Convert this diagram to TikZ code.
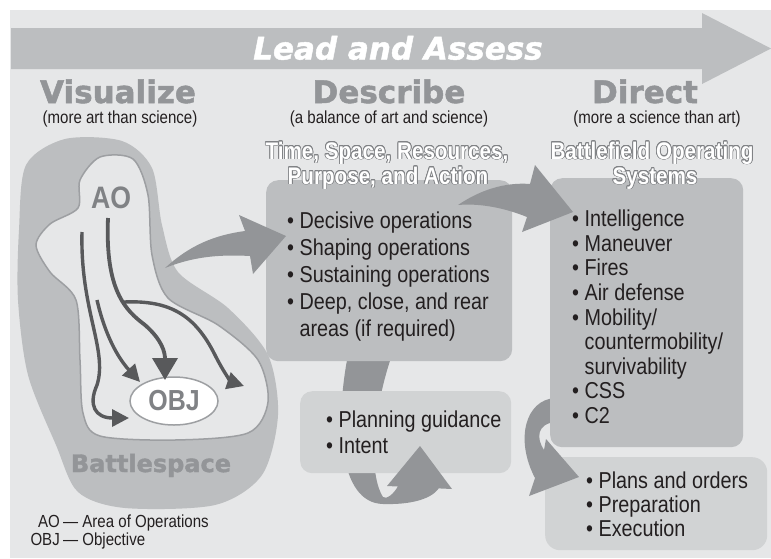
\documentclass[tikz,border=0pt]{standalone}
\usepackage{fontspec}
\setmainfont{Liberation Sans}[FakeStretch=0.86]
\newfontfamily\headfont{DejaVu Sans Bold}[FakeBold=1.6]
\newfontfamily\leadfont{DejaVu Sans Bold Oblique}[FakeBold=1.4]
\usepackage{contour}
\usetikzlibrary{arrows.meta,shapes.geometric}
\definecolor{bg}{HTML}{E6E7E8}
\definecolor{band}{HTML}{BCBEC0}
\definecolor{boxdark}{HTML}{BCBEC0}
\definecolor{boxlight}{HTML}{D1D3D4}
\definecolor{titlegrey}{HTML}{939598}
\definecolor{swoosh}{HTML}{939598}
\definecolor{darkarr}{HTML}{58595B}
\definecolor{aogrey}{HTML}{808285}
\definecolor{aoline}{HTML}{9D9FA2}
\definecolor{textblack}{HTML}{231F20}
\contourlength{0.7pt}
\newcommand{\bul}{\textbullet\ }
\newcommand{\cont}{\phantom{\textbullet\ }}

\begin{document}
\begin{tikzpicture}[x=1pt,y=-1pt,
  title/.style={font=\headfont\fontsize{31}{31}\selectfont, text=titlegrey, anchor=base, inner sep=0},
  note/.style={font=\fontsize{17.5}{17.5}\selectfont, text=textblack, anchor=base, inner sep=0},
  hollow/.style={font=\bfseries\fontsize{24}{24}\selectfont, text=white, anchor=base, inner sep=0},
  item/.style={font=\fontsize{23}{23}\selectfont, text=textblack, anchor=base west, inner sep=0},
  panel/.style={rounded corners=12pt, minimum width=#1, inner sep=0, anchor=north west},
  thin/.style={-{Triangle[length=17pt,width=17pt]}, line width=3.4pt, darkarr},
  thick/.style={-{Triangle[length=22pt,width=25pt]}, line width=3.8pt, darkarr}]
\useasboundingbox (0,0) rectangle (771,558);
\fill[bg] (10,10) rectangle (771,558);
\fill[band] (11,28) -- (702,28) -- (702,13) -- (771,48.5) -- (702,84) -- (702,69) -- (11,69) -- cycle;
\node[font=\leadfont\fontsize{31}{31}\selectfont, text=white, anchor=base, inner sep=0] (lead) at (398,59.5) {Lead and Assess};

\node[title] (vis) at (118,103) {Visualize};
\node[title] (desc) at (389,103) {Describe};
\node[title] (dir) at (645,103) {Direct};
\node[note] (visnote) at (120,123) {(more art than science)};
\node[note] (descnote) at (389,123) {(a balance of art and science)};
\node[note] (dirnote) at (657,123) {(more a science than art)};

% battlespace and area of operations
\fill[band] plot[smooth cycle] coordinates {(19,230) (26,165) (65,139) (122,141) (152,168) (162,225) (178,272) (228,308) (268,355) (278,415) (262,475) (215,505) (125,508) (78,492) (56,445) (28,375) (18,300)};
\filldraw[fill=bg, draw=aoline, line width=1.5pt] plot[smooth cycle] coordinates {(80,180) (100,157) (133,159) (148,195) (152,255) (168,298) (218,325) (258,360) (268,402) (248,433) (175,440) (100,436) (83,413) (80,360) (76,300) (50,272) (36,245) (50,224) (78,208)};
\node[font=\bfseries\fontsize{31}{31}\selectfont, text=aogrey, anchor=base, inner sep=0] (ao) at (111,208) {AO};
\node[ellipse, draw=aoline, line width=1.5pt, fill=white, minimum width=88pt, minimum height=48pt, inner sep=0, font=\bfseries\fontsize{29}{29}\selectfont, text=aogrey] (obj) at (174,401) {OBJ};
\node[font=\headfont\fontsize{24}{24}\selectfont, text=titlegrey, anchor=base, inner sep=0] (bspace) at (151,472) {Battlespace};
\draw[thin] (82,232) .. controls (80,310) and (108,350) .. (97,385) .. controls (88,405) and (95,418) .. (129,418);
\draw[thin] (97,300) .. controls (105,335) and (118,358) .. (140,382);
\draw[thick] (108,218) .. controls (105,290) and (125,310) .. (145,325) .. controls (162,340) and (165,352) .. (165,380);
\draw[thin] (124,302) .. controls (170,300) and (195,315) .. (215,355) .. controls (225,375) and (232,382) .. (244,386);

\node[note, anchor=base east] (legao) at (60,527) {AO};
\node[note, anchor=base west] (legaotext) at (63,527) {— Area of Operations};
\node[note, anchor=base east] (legobj) at (60,545) {OBJ};
\node[note, anchor=base west] (legobjtext) at (63,545) {— Objective};

% swooshes and panels
\fill[swoosh] (348,355) .. controls (335,420) and (338,503) .. (383,504) .. controls (420,505) and (436,495) .. (440,486) -- (398,486) .. controls (394,494) and (386,500) .. (383,497) .. controls (366,470) and (376,400) .. (392,355) -- cycle;
\node[panel=246pt, minimum height=181pt, fill=boxdark] (ops) at (266,180) {};
\node[panel=211pt, minimum height=82pt, fill=boxlight] (guide) at (300,391) {};
\fill[swoosh] (387,486) -- (420,446) -- (452,489) -- cycle;
\fill[swoosh] (165,268) .. controls (190,245) and (215,235) .. (245,231) -- (239,215) -- (286,236) -- (253,274) -- (250,256) .. controls (215,254) and (190,258) .. (165,268) -- cycle;
\node[panel=222pt, minimum height=93pt, fill=boxlight, rounded corners=15pt] (exec) at (545,457) {};
\fill[swoosh] (555,398) .. controls (525,400) and (515,440) .. (535,478) -- (529,496) -- (579,477) -- (546,439) -- (544,450) .. controls (536,438) and (537,424) .. (555,422) -- cycle;
\node[panel=193pt, minimum height=269pt, fill=boxdark] (sys) at (550,178) {};
\fill[swoosh] (458,205) .. controls (480,190) and (505,182) .. (530,184) -- (535,165) -- (573,212) -- (522,232) -- (527,217) .. controls (505,208) and (480,203) .. (458,205) -- cycle;

\node[hollow] (tsr) at (387,159) {\contour{aogrey}{Time, Space, Resources,}};
\node[hollow] (tsrb) at (388,184) {\contour{aogrey}{Purpose, and Action}};
\node[hollow] (bos) at (652,159) {\contour{aogrey}{Battlefield Operating}};
\node[hollow] (bosb) at (655,184) {\contour{aogrey}{Systems}};

\foreach \t [count=\i] in {\bul Decisive operations, \bul Shaping operations, \bul Sustaining operations, {\bul Deep, close, and rear}, \cont areas (if required)}
  \node[item] (ops-\i) at (287,{228+27*(\i-1)}) {\t};
\foreach \t [count=\i] in {\bul Planning guidance, \bul Intent}
  \node[item] (guide-\i) at (326,{427+26*(\i-1)}) {\t};
\foreach \t [count=\i] in {\bul Intelligence, \bul Maneuver, \bul Fires, \bul Air defense, \bul Mobility/, \cont countermobility/, \cont survivability, \bul CSS, \bul C2}
  \node[item] (sys-\i) at (572,{226.7+24.6*(\i-1)}) {\t};
\foreach \t [count=\i] in {\bul Plans and orders, \bul Preparation, \bul Execution}
  \node[item] (exec-\i) at (586,{488.3+24.2*(\i-1)}) {\t};
\end{tikzpicture}
\end{document}
